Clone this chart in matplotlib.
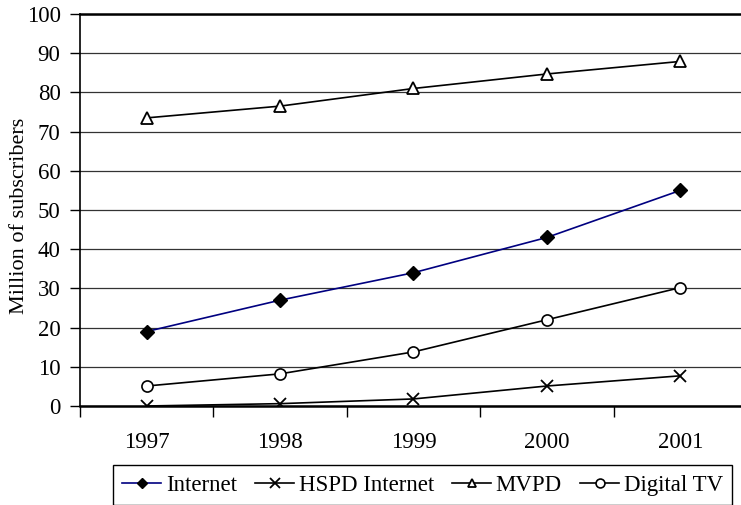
import matplotlib
matplotlib.use("Agg")
import matplotlib.pyplot as plt

plt.rcParams["font.family"] = ["Liberation Serif", "DejaVu Serif"]

years = ["1997", "1998", "1999", "2000", "2001"]
internet = [19, 27, 34, 43, 55]
hspd = [0, 0.6, 1.8, 5.1, 7.7]
mvpd = [73.5, 76.5, 81, 84.7, 87.9]
digital_tv = [5.1, 8.2, 13.8, 22, 30.2]

fs = 16.5

fig = plt.figure(figsize=(7.41, 5.05), dpi=100)
ax = fig.add_axes([80 / 741, 99 / 505, 667 / 741, 392 / 505])

x = range(len(years))
ax.plot(x, internet, color="#000080", lw=1.2, marker="D", ms=7,
        mfc="black", mec="black", label="Internet")
ax.plot(x, hspd, color="black", lw=1.2, marker="x", ms=9, mew=1.3,
        label="HSPD Internet")
ax.plot(x, mvpd, color="black", lw=1.2, marker="^", ms=8, mfc="white",
        mew=1.3, label="MVPD")
ax.plot(x, digital_tv, color="black", lw=1.2, marker="o", ms=8, mfc="white",
        mew=1.2, label="Digital TV")

ax.set_xlim(-0.5, len(years) - 0.5)
ax.set_ylim(0, 100)
ax.set_yticks(range(0, 101, 10))
ax.grid(axis="y", color="#333333", lw=0.9)
ax.set_axisbelow(True)

# tick marks between categories, labels at the centres
ax.set_xticks([i - 0.5 for i in range(len(years))])
ax.set_xticklabels([])
ax.set_xticks(list(x), minor=True)
ax.set_xticklabels(years, minor=True)
ax.tick_params(axis="x", which="major", length=8, width=1, direction="out")
ax.tick_params(axis="x", which="minor", length=0, pad=19, labelsize=fs)
ax.tick_params(axis="y", length=7, width=1, labelsize=fs, pad=7)

for side in ["left", "bottom", "top"]:
    ax.spines[side].set_color("black")
ax.spines["left"].set_linewidth(1.2)
ax.spines["bottom"].set_linewidth(1.8)
ax.spines["top"].set_linewidth(1.8)
ax.spines["right"].set_visible(False)

ax.set_ylabel("Million of subscribers", fontsize=16)
ax.yaxis.set_label_coords(-0.077, 0.485)

leg = fig.legend(loc="center", bbox_to_anchor=(422.5 / 741, 1 - 485 / 505),
                 ncol=4, fontsize=fs, frameon=True, fancybox=False,
                 edgecolor="black", framealpha=1, handlelength=1.7,
                 handletextpad=0.2, columnspacing=0.8, borderpad=0.4,
                 borderaxespad=0.2, markerscale=0.8)
leg.get_frame().set_linewidth(1.0)

fig.savefig("out.png", dpi=100)
